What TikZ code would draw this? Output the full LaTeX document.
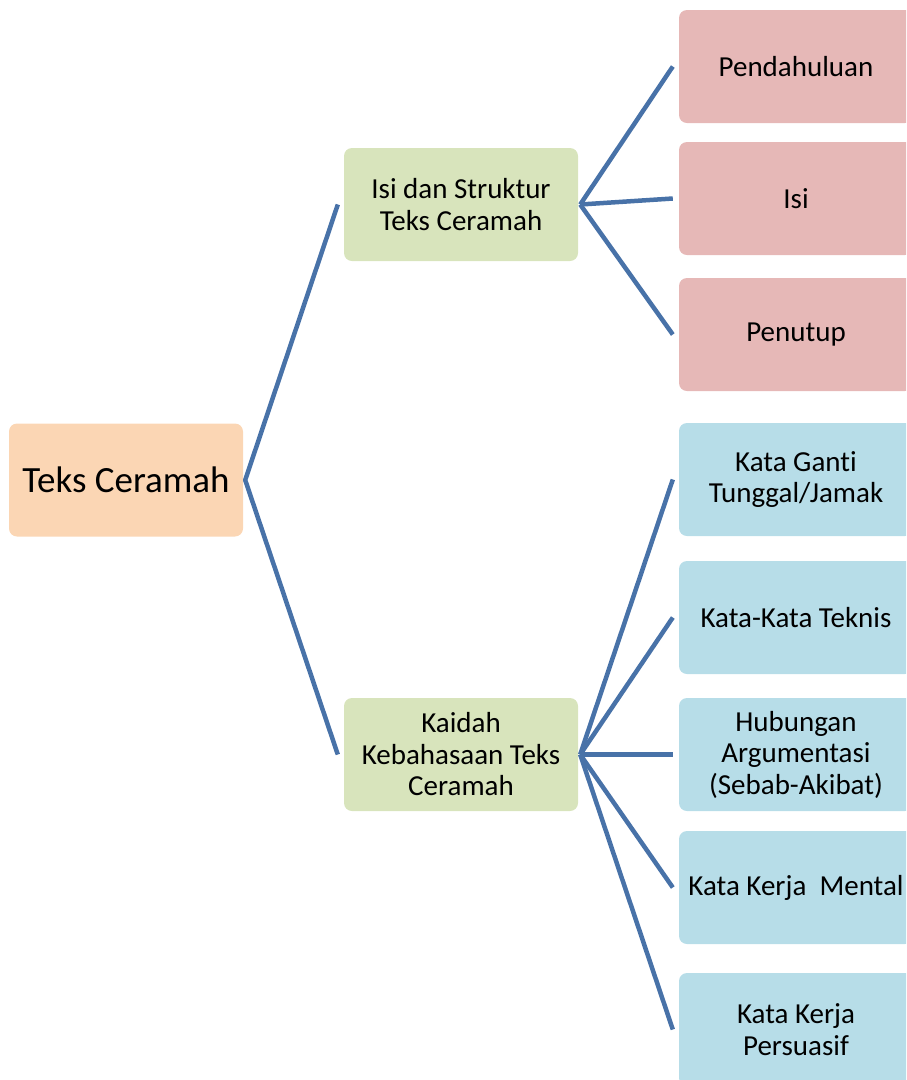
\documentclass[tikz,border=0pt]{standalone}
\usepackage{fontspec}
\setmainfont{Carlito}[RawFeature={-liga;-clig;-dlig;-calt}]
\definecolor{peach}{RGB}{251,214,180}
\definecolor{greenbox}{RGB}{216,228,188}
\definecolor{pinkbox}{RGB}{230,184,183}
\definecolor{bluebox}{RGB}{183,221,232}
\definecolor{linkcol}{RGB}{72,114,168}
\tikzset{
  box/.style={rounded corners=8pt, minimum width=234pt, minimum height=113pt, inner sep=1pt, align=center, font=\fontsize{29}{31.5}\selectfont, text=black},
  rootbox/.style={box, fill=peach, font=\fontsize{37}{40}\selectfont},
  midbox/.style={box, fill=greenbox},
  pinkb/.style={box, fill=pinkbox},
  blueb/.style={box, fill=bluebox},
  link/.style={draw=linkcol, line width=4.5pt, line join=round}
}
\begin{document}
\begin{tikzpicture}[x=1pt,y=-1pt]
\useasboundingbox (0,0) rectangle (906,1080);
\clip (0,0) rectangle (906,1080);
\node[rootbox] (root) at (126,480) {Teks Ceramah};
\node[midbox] (isi) at (461,204.5) {Isi dan Struktur\\Teks Ceramah};
\node[midbox] (kaidah) at (461,754.5) {Kaidah\\Kebahasaan Teks\\Ceramah};
\node[pinkb] (p1) at (796,66.5) {Pendahuluan};
\node[pinkb] (p2) at (796,198.5) {Isi};
\node[pinkb] (p3) at (796,334.5) {Penutup};
\node[blueb] (b1) at (796,479.5) {Kata Gant\kern0pt i\\Tunggal/Jamak};
\node[blueb] (b2) at (796,617.5) {Kata-Kata Teknis};
\node[blueb] (b3) at (796,754.5) {Hubungan\\Argumentasi\\(Sebab-Akibat)};
\node[blueb] (b4) at (796,887.5) {Kata Kerja~~Mental};
\node[blueb] (b5) at (796,1029.5) {Kata Kerja\\Persuasif};
\draw[link] ([xshift=-6pt]isi.west) -- ([xshift=2pt]root.east) -- ([xshift=-6pt]kaidah.west);
\foreach \t in {p1,p2,p3}
  \draw[link] ([xshift=2pt]isi.east) -- ([xshift=-6pt]\t.west);
\foreach \t in {b1,b2,b3,b4,b5}
  \draw[link] ([xshift=2pt]kaidah.east) -- ([xshift=-6pt]\t.west);
\end{tikzpicture}
\end{document}
